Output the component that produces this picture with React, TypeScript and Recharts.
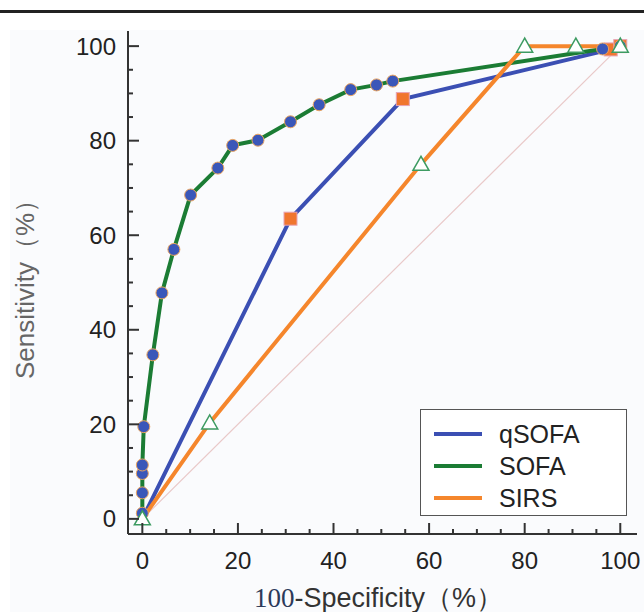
import React from 'react';
import {
  LineChart,
  Line,
  XAxis,
  YAxis,
  ReferenceLine,
  Legend,
  Label,
} from 'recharts';

if (typeof document !== 'undefined') document.body.style.margin = '0';

const sofa = [
  { x: 0, y: 0 }, { x: 0, y: 1.2 }, { x: 0, y: 5.5 }, { x: 0, y: 9.6 },
  { x: 0, y: 11.4 }, { x: 0.3, y: 19.5 }, { x: 2.2, y: 34.7 }, { x: 4.1, y: 47.8 },
  { x: 6.6, y: 57 }, { x: 10.1, y: 68.5 }, { x: 15.8, y: 74.2 }, { x: 18.9, y: 79 },
  { x: 24.2, y: 80.1 }, { x: 31, y: 84 }, { x: 37, y: 87.6 }, { x: 43.6, y: 90.8 },
  { x: 49, y: 91.8 }, { x: 52.4, y: 92.6 }, { x: 96.3, y: 99.4 }, { x: 100, y: 100 },
];
const qsofa = [
  { x: 0, y: 0 }, { x: 31, y: 63.5 }, { x: 54.5, y: 88.8 }, { x: 98, y: 99.3 }, { x: 100, y: 100 },
];
const sirs = [
  { x: 0, y: 0 }, { x: 14.1, y: 20.3 }, { x: 58.3, y: 75 }, { x: 80, y: 100 },
  { x: 90.7, y: 100 }, { x: 100, y: 100 },
];
const ticks = [0, 5, 10, 15, 20, 25, 30, 35, 40, 45, 50, 55, 60, 65, 70, 75, 80, 85, 90, 95, 100];

const series = [
  { name: 'qSOFA', color: '#3b4fb3' },
  { name: 'SOFA', color: '#1b7c34' },
  { name: 'SIRS', color: '#f5862c' },
];

const XTick = (props: any) => {
  const { x, y, payload } = props;
  const major = payload.value % 20 === 0;
  return (
    <g>
      <line x1={x} y1={y} x2={x} y2={y - (major ? 11 : 5)} stroke="#333" strokeWidth={2} />
      {major && (
        <text x={x} y={y + 35} textAnchor="middle" fontSize={24} fill="#222" fontFamily="Liberation Sans, Arial, sans-serif">
          {payload.value}
        </text>
      )}
    </g>
  );
};

const YTick = (props: any) => {
  const { x, y, payload } = props;
  const major = payload.value % 20 === 0;
  return (
    <g>
      <line x1={x} y1={y} x2={x + (major ? 11 : 5)} y2={y} stroke="#333" strokeWidth={2} />
      {major && (
        <text x={x - 12} y={y + 8.5} textAnchor="end" fontSize={24} fill="#222" fontFamily="Liberation Sans, Arial, sans-serif">
          {payload.value}
        </text>
      )}
    </g>
  );
};

const CircleDot = (props: any) => {
  const { cx, cy, index } = props;
  if (index === 0) return <g key={index} />;
  return <circle key={index} cx={cx} cy={cy} r={6} fill="#3a57b9" stroke="#eaa35f" strokeWidth={1} />;
};

const SquareDot = (props: any) => {
  const { cx, cy, index } = props;
  if (index === 0) return <g key={index} />;
  return <rect key={index} x={cx - 6.5} y={cy - 6.5} width={13} height={13} fill="#f0762e" stroke="#e7a3b4" strokeWidth={1} />;
};

const TriDot = (props: any) => {
  const { cx, cy, index } = props;
  const s = 8;
  return (
    <polygon
      key={index}
      points={`${cx},${cy - s} ${cx - s},${cy + s * 0.75} ${cx + s},${cy + s * 0.75}`}
      fill="#ffffff"
      stroke="#3d9b62"
      strokeWidth={1.5}
    />
  );
};

const LegendBox = () => (
  <div
    style={{
      width: 207,
      height: 107,
      border: '1.5px solid #555',
      background: '#ffffff',
      boxSizing: 'border-box',
      paddingTop: 8,
      fontFamily: 'Liberation Sans, Arial, sans-serif',
    }}
  >
    {series.map((s) => (
      <div key={s.name} style={{ display: 'flex', alignItems: 'center', height: 32 }}>
        <div style={{ marginLeft: 13, width: 48, height: 4, background: s.color }} />
        <span style={{ marginLeft: 17, fontSize: 25, color: '#222' }}>{s.name}</span>
      </div>
    ))}
  </div>
);

const XTitle = (props: any) => {
  const { viewBox } = props;
  return (
    <text x={viewBox.x + viewBox.width / 2 - 4} y={607} textAnchor="middle" fontSize={27} fill="#333">
      <tspan fontFamily="Liberation Serif, serif" fill="#2c3a5a">100</tspan>
      <tspan fontFamily="Liberation Sans, Arial, sans-serif">-Specificity（%）</tspan>
    </text>
  );
};

const YTitle = () => (
  <text
    x={34}
    y={283}
    transform="rotate(-90 34 283)"
    textAnchor="middle"
    fontSize={26}
    fill="#666"
    fontFamily="Liberation Sans, Arial, sans-serif"
  >
    Sensitivity（%）
  </text>
);

export default function App() {
  return (
    <div style={{ position: 'relative', width: 644, height: 612, background: '#fff' }}>
      <div style={{ position: 'absolute', left: 0, top: 10, width: 644, height: 3, background: '#222' }} />
      <div style={{ position: 'absolute', left: 10, top: 30, right: 0, bottom: 0, background: '#fafbfd' }} />
      <div style={{ position: 'absolute', left: 0, top: 0 }}>
        <LineChart width={644} height={612} margin={{ top: 31, right: 7, bottom: 0, left: 0 }}>
          <XAxis
            type="number"
            dataKey="x"
            domain={[-3, 103.5]}
            ticks={ticks}
            allowDataOverflow
            height={78}
            tickSize={0}
            tickMargin={0}
            tickLine={false}
            tick={<XTick />}
            axisLine={{ stroke: '#333', strokeWidth: 2 }}
            interval={0}
          >
            <Label content={<XTitle />} />
          </XAxis>
          <YAxis
            type="number"
            dataKey="y"
            domain={[-3.2, 103.2]}
            ticks={ticks}
            allowDataOverflow
            width={128}
            tickSize={0}
            tickMargin={0}
            tickLine={false}
            tick={<YTick />}
            axisLine={{ stroke: '#333', strokeWidth: 2 }}
            interval={0}
          >
            <Label content={<YTitle />} />
          </YAxis>
          <ReferenceLine
            segment={[{ x: 0, y: 0 }, { x: 100, y: 100 }]}
            stroke="#e9c9c9"
            strokeWidth={1.2}
          />
          <Line
            data={qsofa}
            dataKey="y"
            name="qSOFA"
            type="linear"
            stroke="#3b4fb3"
            strokeWidth={4}
            dot={<SquareDot />}
            activeDot={false}
            isAnimationActive={false}
          />
          <Line
            data={sofa}
            dataKey="y"
            name="SOFA"
            type="linear"
            stroke="#1b7c34"
            strokeWidth={4}
            dot={<CircleDot />}
            activeDot={false}
            isAnimationActive={false}
          />
          <Line
            data={sirs}
            dataKey="y"
            name="SIRS"
            type="linear"
            stroke="#f5862c"
            strokeWidth={4}
            dot={<TriDot />}
            activeDot={false}
            isAnimationActive={false}
          />
          <Legend
            layout="vertical"
            align="center"
            verticalAlign="middle"
            content={<LegendBox />}
            wrapperStyle={{ position: 'absolute', left: 420, top: 409, width: 207, height: 107 }}
          />
        </LineChart>
      </div>
    </div>
  );
}
